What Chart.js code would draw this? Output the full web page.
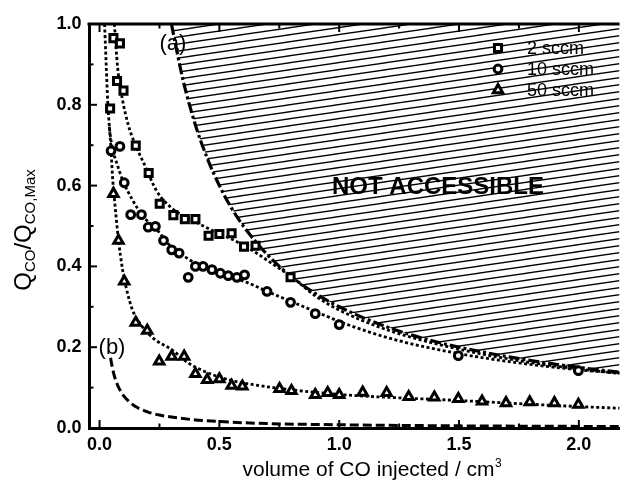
<!DOCTYPE html>
<html>
<head>
<meta charset="utf-8">
<script src="https://cdn.jsdelivr.net/npm/chart.js@4.4.1/dist/chart.umd.min.js"></script>
<style>
  html, body { margin: 0; padding: 0; background: #fff; overflow: hidden; }
  canvas { display: block; }
</style>
</head>
<body>
<canvas id="chart" width="628" height="483"></canvas>
<script>
// ---- measured CO uptake, Q_CO / Q_CO,Max vs injected volume (cm3) ----
const sccm2X = [0.044, 0.058, 0.073, 0.085, 0.10, 0.151, 0.205, 0.251, 0.308, 0.356, 0.40, 0.455, 0.50, 0.551, 0.603, 0.651, 0.797];
const sccm2Y = [0.791, 0.965, 0.859, 0.952, 0.835, 0.699, 0.631, 0.555, 0.527, 0.517, 0.517, 0.476, 0.48, 0.482, 0.449, 0.451, 0.373];

const sccm10X = [0.048, 0.085, 0.103, 0.13, 0.175, 0.203, 0.233, 0.267, 0.301, 0.332, 0.37, 0.40, 0.432, 0.469, 0.504, 0.537, 0.573, 0.605, 0.699, 0.797, 0.90, 1.0, 1.497, 1.998];
const sccm10Y = [0.686, 0.697, 0.607, 0.528, 0.528, 0.497, 0.499, 0.464, 0.441, 0.433, 0.373, 0.40, 0.40, 0.392, 0.383, 0.377, 0.373, 0.379, 0.338, 0.311, 0.283, 0.256, 0.179, 0.142];

const sccm50X = [0.058, 0.079, 0.103, 0.151, 0.199, 0.249, 0.301, 0.353, 0.40, 0.449, 0.50, 0.551, 0.596, 0.751, 0.801, 0.90, 0.952, 1.0, 1.098, 1.198, 1.29, 1.397, 1.497, 1.596, 1.696, 1.795, 1.898, 1.998];
const sccm50Y = [0.58, 0.464, 0.363, 0.261, 0.241, 0.165, 0.177, 0.177, 0.134, 0.119, 0.121, 0.105, 0.103, 0.097, 0.092, 0.082, 0.087, 0.082, 0.088, 0.087, 0.077, 0.076, 0.072, 0.066, 0.062, 0.064, 0.062, 0.058];

// ---- fitted curves (dotted) ----
const fit2X = [0.062, 0.075, 0.095, 0.12, 0.15, 0.185, 0.24, 0.30, 0.35, 0.40, 0.45, 0.50, 0.55, 0.60, 0.65, 0.70, 0.75, 0.80, 0.90, 1.0, 1.2, 1.5, 1.8, 2.0, 2.17];
const fit2Y = [1.0, 0.895, 0.815, 0.75, 0.70, 0.655, 0.585, 0.545, 0.525, 0.51, 0.495, 0.48, 0.468, 0.452, 0.435, 0.415, 0.395, 0.375, 0.327, 0.292, 0.243, 0.195, 0.162, 0.146, 0.135];

const fit10X = [0.021, 0.028, 0.034, 0.042, 0.055, 0.075, 0.096, 0.137, 0.18, 0.233, 0.30, 0.356, 0.41, 0.507, 0.603, 0.70, 0.80, 0.93, 1.03, 1.23, 1.5, 1.75, 2.0, 2.17];
const fit10Y = [1.0, 0.895, 0.81, 0.74, 0.69, 0.65, 0.614, 0.565, 0.525, 0.495, 0.448, 0.424, 0.404, 0.381, 0.363, 0.338, 0.313, 0.281, 0.257, 0.219, 0.184, 0.161, 0.144, 0.136];

const fit50X = [0.041, 0.048, 0.055, 0.06, 0.069, 0.079, 0.096, 0.11, 0.137, 0.178, 0.233, 0.301, 0.37, 0.438, 0.534, 0.644, 0.78, 1.0, 1.5, 2.0, 2.17];
const fit50Y = [0.746, 0.688, 0.614, 0.58, 0.523, 0.465, 0.392, 0.35, 0.293, 0.251, 0.218, 0.194, 0.161, 0.14, 0.12, 0.107, 0.096, 0.083, 0.068, 0.053, 0.049];

// ---- limit curves (a) and (b) ----
const limitAX = [0.30, 0.32, 0.35, 0.40, 0.45, 0.50, 0.55, 0.60, 0.70, 0.80, 0.90, 1.0, 1.2, 1.4, 1.6, 1.8, 2.0, 2.17];
const limitAY = [1.0, 0.94, 0.857, 0.75, 0.667, 0.60, 0.545, 0.50, 0.429, 0.375, 0.333, 0.30, 0.25, 0.214, 0.188, 0.167, 0.15, 0.138];

const limitBX = [0.046, 0.05, 0.06, 0.07, 0.08, 0.10, 0.12, 0.15, 0.20, 0.25, 0.30, 0.40, 0.50, 0.70, 1.0, 1.5, 2.0, 2.17];
const limitBY = [0.174, 0.16, 0.133, 0.114, 0.10, 0.08, 0.067, 0.053, 0.04, 0.032, 0.027, 0.02, 0.016, 0.011, 0.008, 0.0053, 0.004, 0.0037];

// ---- axes ----
const xRange = [-0.044, 2.17];
const yRange = [0, 1];
const xTickValues = [0, 0.5, 1.0, 1.5, 2.0];
const xMinorValues = [0.25, 0.75, 1.25, 1.75];
const yTickValues = [0, 0.2, 0.4, 0.6, 0.8, 1.0];
const yMinorValues = [0.1, 0.3, 0.5, 0.7, 0.9];

const legendLabels = ['2 sccm', '10 sccm', '50 sccm'];
const legendStyles = ['rect', 'circle', 'triangle'];

const FONT = "'Liberation Sans', Arial, Helvetica, sans-serif";
const MARK_R = { rect: 5, circle: 3.9, triangle: 5.4 };
const MARK_W = 3;

const pts = (xs, ys) => xs.map((v, i) => ({ x: v, y: ys[i] }));

// diagonal hatch for the inaccessible region
function makeHatch() {
  const w = 48, h = 7;
  const c = document.createElement('canvas');
  c.width = w; c.height = h;
  const g = c.getContext('2d');
  g.strokeStyle = '#000';
  g.lineWidth = 1.3;
  for (let k = -1; k <= 1; k++) {
    g.beginPath();
    g.moveTo(0, h + k * h);
    g.lineTo(w, k * h);
    g.stroke();
  }
  return g.createPattern(c, 'repeat');
}

const markerBase = {
  showLine: false,
  borderColor: '#000',
  backgroundColor: '#fff',
  pointBorderWidth: MARK_W,
  pointBackgroundColor: '#fff',
  pointBorderColor: '#000'
};

const curveBase = {
  pointRadius: 0,
  borderColor: '#000',
  backgroundColor: 'transparent',
  cubicInterpolationMode: 'monotone',
  fill: false
};

const datasets = [
  Object.assign({ label: '2 sccm', data: pts(sccm2X, sccm2Y), pointStyle: 'rect', pointRadius: MARK_R.rect }, markerBase),
  Object.assign({ label: '10 sccm', data: pts(sccm10X, sccm10Y), pointStyle: 'circle', pointRadius: MARK_R.circle }, markerBase),
  Object.assign({ label: '50 sccm', data: pts(sccm50X, sccm50Y), pointStyle: 'triangle', pointRadius: MARK_R.triangle }, markerBase),
  Object.assign({ label: 'fit 2', data: pts(fit2X, fit2Y), borderWidth: 2.8, borderDash: [3, 2.5] }, curveBase),
  Object.assign({ label: 'fit 10', data: pts(fit10X, fit10Y), borderWidth: 2.8, borderDash: [3, 2.5] }, curveBase),
  Object.assign({ label: 'fit 50', data: pts(fit50X, fit50Y), borderWidth: 2.8, borderDash: [3, 2.5] }, curveBase),
  Object.assign({}, curveBase, { label: '(b)', data: pts(limitBX, limitBY), borderWidth: 3, borderDash: [9, 4] }),
  Object.assign({}, curveBase, { label: '(a)', data: pts(limitAX, limitAY), borderWidth: 3.2, borderDash: [11, 3, 3, 3], fill: 'end', backgroundColor: makeHatch() })
];

function drawMarker(ctx, style, x, y) {
  ctx.save();
  ctx.fillStyle = '#fff';
  ctx.strokeStyle = '#000';
  ctx.lineWidth = MARK_W;
  if (Chart.helpers && Chart.helpers.drawPoint) {
    Chart.helpers.drawPoint(ctx, { pointStyle: style, radius: MARK_R[style], rotation: 0, borderWidth: MARK_W }, x, y);
  }
  ctx.restore();
}

const decorations = {
  id: 'decorations',
  afterDraw(chart) {
    const { ctx, chartArea: a, scales: { x, y } } = chart;
    ctx.save();
    ctx.strokeStyle = '#000';
    ctx.fillStyle = '#000';

    // top frame line
    ctx.lineWidth = 3;
    ctx.beginPath();
    ctx.moveTo(a.left - 1.5, a.top);
    ctx.lineTo(a.right, a.top);
    ctx.stroke();

    // inward tick marks
    ctx.lineWidth = 2;
    const tick = (x1, y1, x2, y2) => { ctx.beginPath(); ctx.moveTo(x1, y1); ctx.lineTo(x2, y2); ctx.stroke(); };
    xTickValues.forEach(v => { const p = x.getPixelForValue(v); tick(p, a.bottom, p, a.bottom - 8); tick(p, a.top, p, a.top + 8); });
    xMinorValues.forEach(v => { const p = x.getPixelForValue(v); tick(p, a.bottom, p, a.bottom - 4.5); tick(p, a.top, p, a.top + 4.5); });
    yTickValues.forEach(v => { const p = y.getPixelForValue(v); tick(a.left, p, a.left + 8, p); });
    yMinorValues.forEach(v => { const p = y.getPixelForValue(v); tick(a.left, p, a.left + 4.5, p); });

    // curve labels
    ctx.font = `22px ${FONT}`;
    ctx.textAlign = 'center';
    ctx.textBaseline = 'middle';
    ctx.fillText('(a)', x.getPixelForValue(0.306), 44);
    ctx.fillText('(b)', x.getPixelForValue(0.052), 348);

    // region label
    ctx.font = `bold 24px ${FONT}`;
    ctx.fillText('NOT ACCESSIBLE', 438, 187);

    // legend
    ctx.font = `18px ${FONT}`;
    ctx.textAlign = 'left';
    const rows = [48, 69, 90];
    legendLabels.forEach((t, i) => {
      drawMarker(ctx, legendStyles[i], 498, rows[i]);
      ctx.fillStyle = '#000';
      ctx.fillText(t, 527, rows[i] + 1);
    });

    // x axis title
    ctx.font = `21px ${FONT}`;
    ctx.textBaseline = 'alphabetic';
    ctx.textAlign = 'left';
    const xt = 'volume of CO injected / cm';
    const xw = ctx.measureText(xt).width;
    const xStart = 372 - (xw + 7) / 2;
    ctx.fillText(xt, xStart, 476);
    ctx.font = `12px ${FONT}`;
    ctx.fillText('3', xStart + xw + 0.5, 467);

    // y axis title with subscripts, rotated
    const parts = [
      { t: 'Q', size: 24, dy: 0 },
      { t: 'CO', size: 15, dy: 4 },
      { t: '/Q', size: 24, dy: 0 },
      { t: 'CO,Max', size: 15, dy: 4 }
    ];
    let total = 0;
    parts.forEach(p => { ctx.font = `${p.size}px ${FONT}`; p.w = ctx.measureText(p.t).width; total += p.w; });
    ctx.translate(31, 230);
    ctx.rotate(-Math.PI / 2);
    let u = -total / 2;
    parts.forEach(p => {
      ctx.font = `${p.size}px ${FONT}`;
      ctx.fillText(p.t, u, p.dy);
      u += p.w;
    });
    ctx.restore();
  }
};

new Chart(document.getElementById('chart'), {
  type: 'line',
  data: { datasets },
  options: {
    responsive: false,
    animation: false,
    events: [],
    layout: { padding: { top: 24, right: 0, left: 0, bottom: 0 } },
    plugins: { legend: { display: false }, tooltip: { enabled: false } },
    elements: { line: { borderCapStyle: 'butt' } },
    scales: {
      x: {
        type: 'linear',
        min: xRange[0],
        max: xRange[1],
        grid: { display: false, drawTicks: false },
        border: { display: true, width: 3, color: '#000' },
        afterBuildTicks: s => { s.ticks = xTickValues.map(v => ({ value: v })); },
        afterFit: s => { s.height = 55; },
        ticks: {
          padding: 6,
          color: '#000',
          font: { family: FONT, size: 18, weight: 'bold' },
          maxRotation: 0,
          callback: v => Number(v).toFixed(1)
        }
      },
      y: {
        type: 'linear',
        min: yRange[0],
        max: yRange[1],
        grid: { display: false, drawTicks: false },
        border: { display: true, width: 3, color: '#000' },
        afterBuildTicks: s => { s.ticks = yTickValues.map(v => ({ value: v })); },
        afterFit: s => { s.width = 89; },
        ticks: {
          padding: 7.5,
          color: '#000',
          font: { family: FONT, size: 18, weight: 'bold' },
          callback: v => Number(v).toFixed(1)
        }
      }
    }
  },
  plugins: [decorations]
});
</script>
</body>
</html>
